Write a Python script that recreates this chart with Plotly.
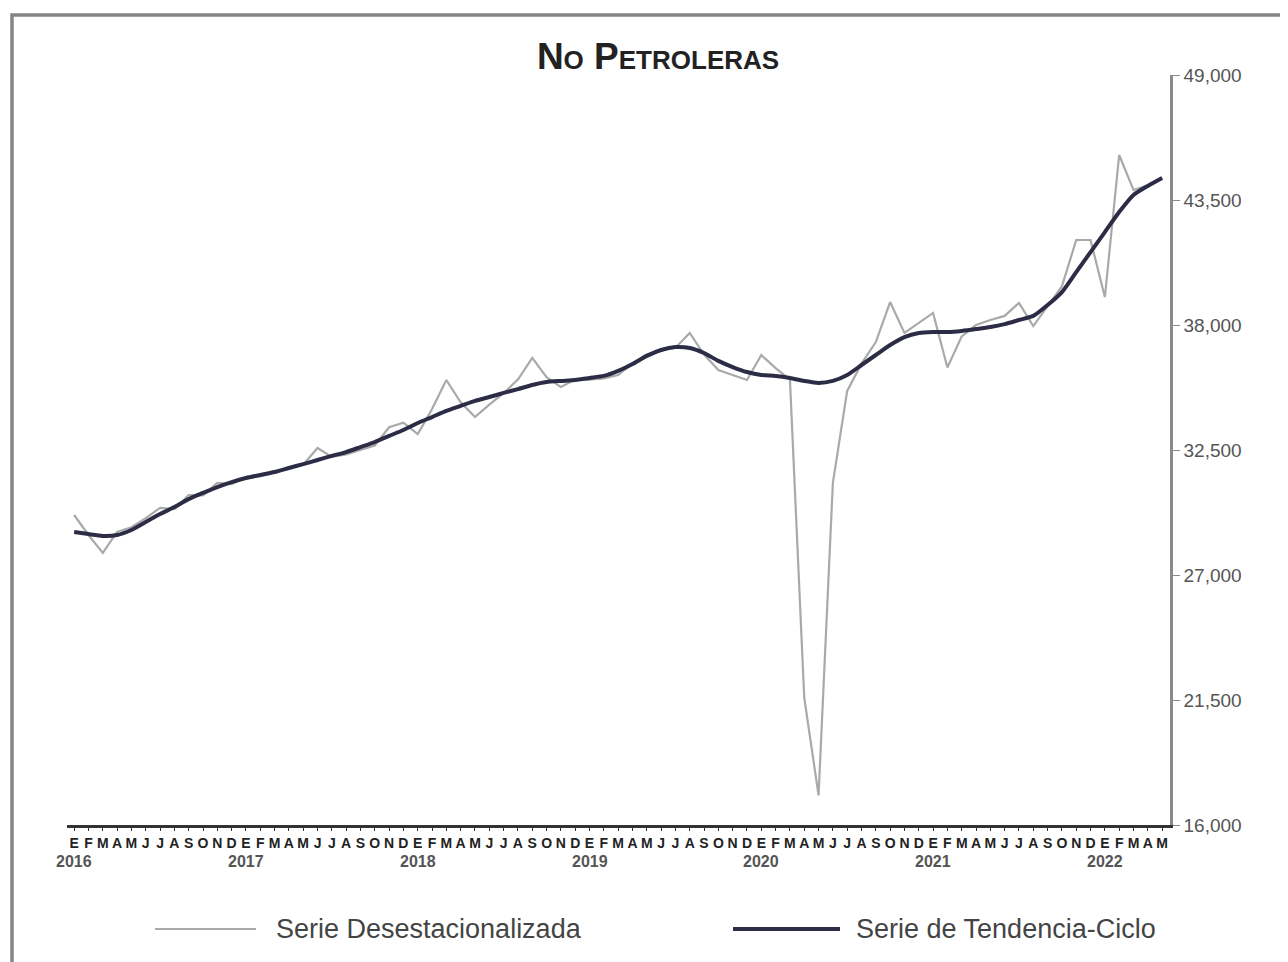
import plotly.graph_objects as go

# ---------------- data ----------------
month_letters = ["E", "F", "M", "A", "M", "J", "J", "A", "S", "O", "N", "D"]
years = ["2016", "2017", "2018", "2019", "2020", "2021", "2022"]
n_months = 77  # Jan 2016 .. May 2022

serie_desestacionalizada = [
    29640, 28760, 27970, 28900, 29100, 29500, 29950, 29900, 30520, 30500, 31050, 31000,   # 2016
    31300, 31350, 31500, 31700, 31850, 32590, 32200, 32300, 32500, 32700, 33500, 33700,   # 2017
    33200, 34300, 35580, 34600, 33950, 34500, 35000, 35600, 36550, 35700, 35270, 35600,   # 2018
    35600, 35650, 35800, 36300, 36700, 36900, 37000, 37650, 36700, 36020, 35800, 35580,   # 2019
    36680, 36100, 35600, 21600, 17300, 31050, 35100, 36300, 37250, 39010, 37650, 38100,   # 2020
    38530, 36130, 37500, 38000, 38220, 38400, 38970, 37950, 38800, 39700, 41740, 41740,   # 2021
    39230, 45480, 43940, 44150, 44480,                                                    # 2022
]

serie_tendencia = [
    28890, 28800, 28720, 28760, 28980, 29330, 29680, 29990, 30340, 30610, 30870, 31090,   # 2016
    31270, 31400, 31530, 31710, 31880, 32060, 32240, 32410, 32630, 32850, 33120, 33380,   # 2017
    33690, 33950, 34220, 34440, 34660, 34830, 35010, 35180, 35360, 35490, 35540, 35580,   # 2018
    35670, 35760, 35980, 36280, 36640, 36900, 37030, 36990, 36770, 36420, 36150, 35930,   # 2019
    35800, 35760, 35670, 35540, 35450, 35540, 35800, 36240, 36680, 37120, 37470, 37650,   # 2020
    37690, 37690, 37740, 37820, 37910, 38040, 38220, 38400, 38880, 39450, 40330, 41210,   # 2021
    42090, 42970, 43720, 44120, 44470,                                                    # 2022
]

y_ticks = [16000, 21500, 27000, 32500, 38000, 43500, 49000]

# ---------------- figure ----------------
OFF = 8                      # page body margin of the html page
W, H = 1288 - OFF, 962 - OFF
L, R, T, B = 67, 1170, 75, 825  # plot area in screen pixels


def px_x(px):
    return (px - L) / (R - L)


def px_y(py):
    return (B - py) / (B - T)


x_idx = list(range(n_months))
tick_text = [month_letters[i % 12] for i in x_idx]

fig = go.Figure()
fig.add_trace(go.Scatter(
    x=x_idx[:len(serie_desestacionalizada)], y=serie_desestacionalizada,
    mode="lines", name="Serie Desestacionalizada",
    line=dict(color="#a9a9a9", width=2.2),
    showlegend=False,
))
fig.add_trace(go.Scatter(
    x=x_idx[:len(serie_tendencia)], y=serie_tendencia,
    mode="lines", name="Serie de Tendencia-Ciclo",
    line=dict(color="#2c2c46", width=4, shape="spline", smoothing=0.6),
    showlegend=False,
))

fig.update_layout(
    width=W, height=H,
    margin=dict(l=L - OFF, r=(W + OFF) - R, t=T - OFF, b=(H + OFF) - B, autoexpand=False),
    paper_bgcolor="white", plot_bgcolor="white",
    font=dict(family="Liberation Sans, Arial, sans-serif", color="#444"),
    title=dict(
        text="<b>No Petroleras</b>",
        x=(658 - OFF) / W, xref="container", xanchor="center",
        y=1 - (56 - OFF) / H, yref="container", yanchor="middle",
        font=dict(size=37, color="#222", family="Liberation Sans, Arial, sans-serif",
                  variant="small-caps"),
    ),
    xaxis=dict(
        range=[-0.5, 76.55],
        tickmode="array", tickvals=x_idx, ticktext=["<b>" + t + "</b>" for t in tick_text],
        tickangle=0,
        tickfont=dict(size=14, color="#222", family="Liberation Sans Narrow, Liberation Sans, Arial"),
        showline=True, linecolor="#333", linewidth=3,
        ticks="outside", ticklen=3, tickcolor="#333",
        showgrid=False, zeroline=False,
    ),
    yaxis=dict(
        range=[16000, 49000], side="right",
        tickmode="array", tickvals=y_ticks, tickformat=",d",
        tickfont=dict(size=19, color="#555"),
        showline=True, linecolor="#8a8a8a", linewidth=2.5,
        ticks="outside", ticklen=7, tickcolor="#8a8a8a",
        showgrid=False, zeroline=False,
    ),
)

# year labels under January of each year
for k, yr in enumerate(years):
    fig.add_annotation(
        x=12 * k, y=px_y(861), xref="x", yref="paper",
        text="<b>" + yr + "</b>", showarrow=False,
        font=dict(size=16, color="#555"), xanchor="center", yanchor="middle",
    )

# outer frame
fig.add_shape(type="rect", xref="paper", yref="paper",
              x0=px_x(12), x1=px_x(1310), y0=px_y(990), y1=px_y(15),
              line=dict(color="#858585", width=3.5), fillcolor="rgba(0,0,0,0)", layer="below")

# legend (drawn manually)
ly = px_y(929)
fig.add_shape(type="line", xref="paper", yref="paper",
              x0=px_x(155), x1=px_x(256), y0=ly, y1=ly,
              line=dict(color="#a9a9a9", width=2.2))
fig.add_annotation(x=px_x(274), y=ly, xref="paper", yref="paper",
                   text="Serie Desestacionalizada", showarrow=False,
                   xanchor="left", yanchor="middle",
                   font=dict(size=27, color="#444"))
fig.add_shape(type="line", xref="paper", yref="paper",
              x0=px_x(733), x1=px_x(840), y0=ly, y1=ly,
              line=dict(color="#2c2c46", width=4))
fig.add_annotation(x=px_x(854), y=ly, xref="paper", yref="paper",
                   text="Serie de Tendencia-Ciclo", showarrow=False,
                   xanchor="left", yanchor="middle",
                   font=dict(size=27, color="#444"))

fig.write_html("out.html")
